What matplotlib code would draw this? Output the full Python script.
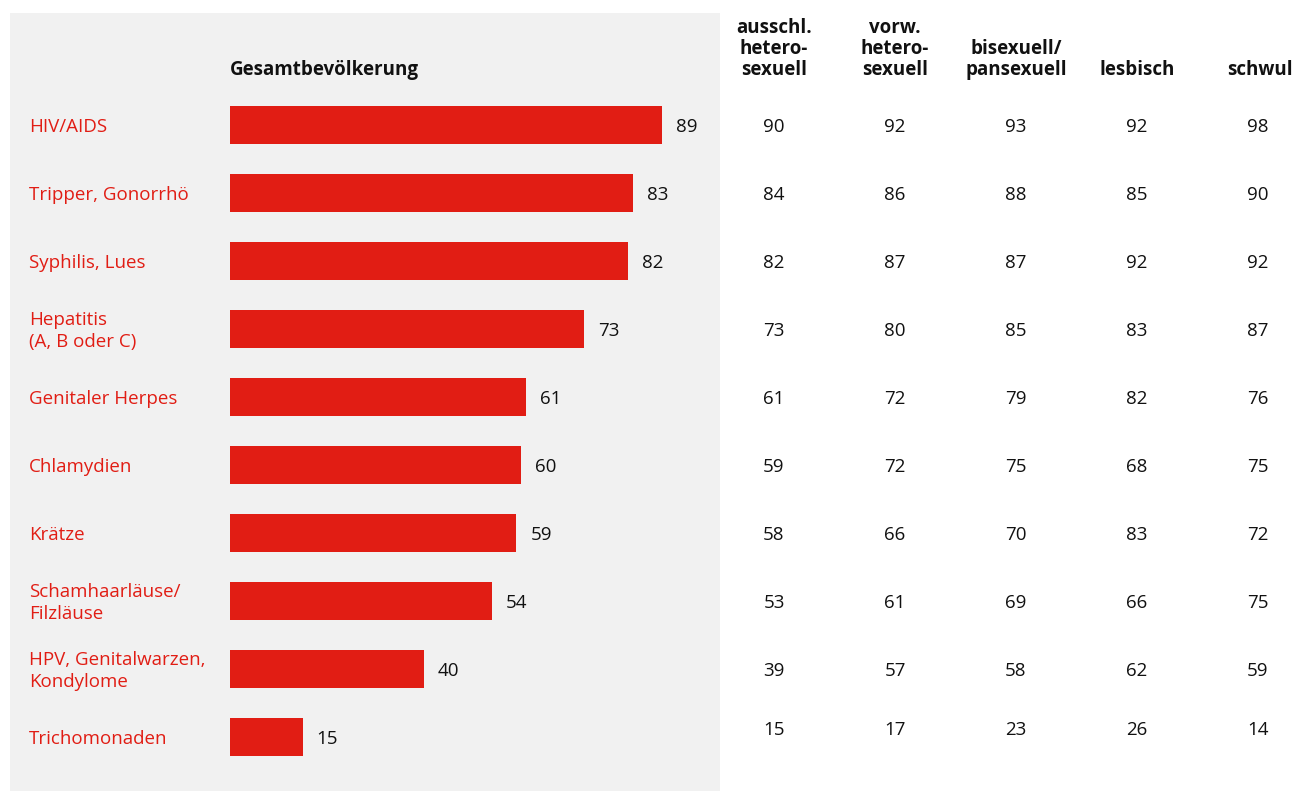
import matplotlib
matplotlib.use("Agg")
from matplotlib import pyplot as plt

categories = ["HIV/AIDS", "Tripper, Gonorrhö", "Syphilis, Lues", "Hepatitis\n(A, B oder C)",
              "Genitaler Herpes", "Chlamydien", "Krätze", "Schamhaarläuse/\nFilzläuse",
              "HPV, Genitalwarzen,\nKondylome", "Trichomonaden"]
gesamt = [89, 83, 82, 73, 61, 60, 59, 54, 40, 15]

groups = ["ausschl.\nhetero-\nsexuell", "vorw.\nhetero-\nsexuell", "bisexuell/\npansexuell",
          "lesbisch", "schwul"]
ausschl_hetero = [90, 84, 82, 73, 61, 59, 58, 53, 39, 15]
vorw_hetero = [92, 86, 87, 80, 72, 72, 66, 61, 57, 17]
bi_pan = [93, 88, 87, 85, 79, 75, 70, 69, 58, 23]
lesbisch = [92, 85, 92, 83, 82, 68, 83, 66, 62, 26]
schwul = [98, 90, 92, 87, 76, 75, 72, 75, 59, 14]

red = "#e11d14"
panel = "#f1f1f1"
font = "Open Sans"
fs = 13.5

W, H = 1306, 791
px = 4.854  # pixels per percent
row = 68    # pixels per row
y0 = 125    # first row centre (px)
top = 13

fig = plt.figure(figsize=(W / 100, H / 100), dpi=100)
fig.patch.set_facecolor("white")

# left panel with bars
ax = fig.add_axes([10 / W, 0, 710 / W, (H - top) / H])
ax.set_facecolor(panel)
ax.set_xlim(-220 / px, 490 / px)
ax.set_ylim((H - y0) / row, (top - y0) / row)
for s in ax.spines.values():
    s.set_visible(False)
ax.set_xticks([])
ax.set_yticks([])

ypos = list(range(len(categories)))
ax.barh(ypos, gesamt, height=38 / row, color=red, left=0)
for i, (cat, v) in enumerate(zip(categories, gesamt)):
    ax.text(-201 / px, i + 2 / row, cat, ha="left", va="center", color=red, fontsize=fs,
            family=font, linespacing=1.25)
    ax.annotate(str(v), (v, i + 2 / row), xytext=(10, 0), textcoords="offset points",
                ha="left", va="center", fontsize=fs, family=font, color="#111111")
ax.text(0, (80 - y0) / row, "Gesamtbevölkerung", ha="left", va="bottom",
        fontsize=fs, family=font, fontweight="bold", color="#111111")

# right table
tab = fig.add_axes([720 / W, 0, 586 / W, (H - top) / H])
tab.set_xlim(0, 586)
tab.set_ylim((H - y0) / row, (top - y0) / row)
tab.axis("off")
cols = [ausschl_hetero, vorw_hetero, bi_pan, lesbisch, schwul]
col_x = [54, 175, 296, 417, 538]
for cx, g, vals in zip(col_x, groups, cols):
    tab.text(cx + (2 if g == "schwul" else 0), (80 - y0) / row, g, ha="center", va="bottom",
             ma="center", fontsize=fs, family=font, fontweight="bold",
             color="#111111", linespacing=1.08)
    for i, v in enumerate(vals):
        yy = i if i < len(vals) - 1 else i - 9 / row
        tab.text(cx, yy + 2 / row, str(v), ha="center", va="center", fontsize=fs,
                 family=font, color="#111111")

fig.savefig("out.png", dpi=100)
